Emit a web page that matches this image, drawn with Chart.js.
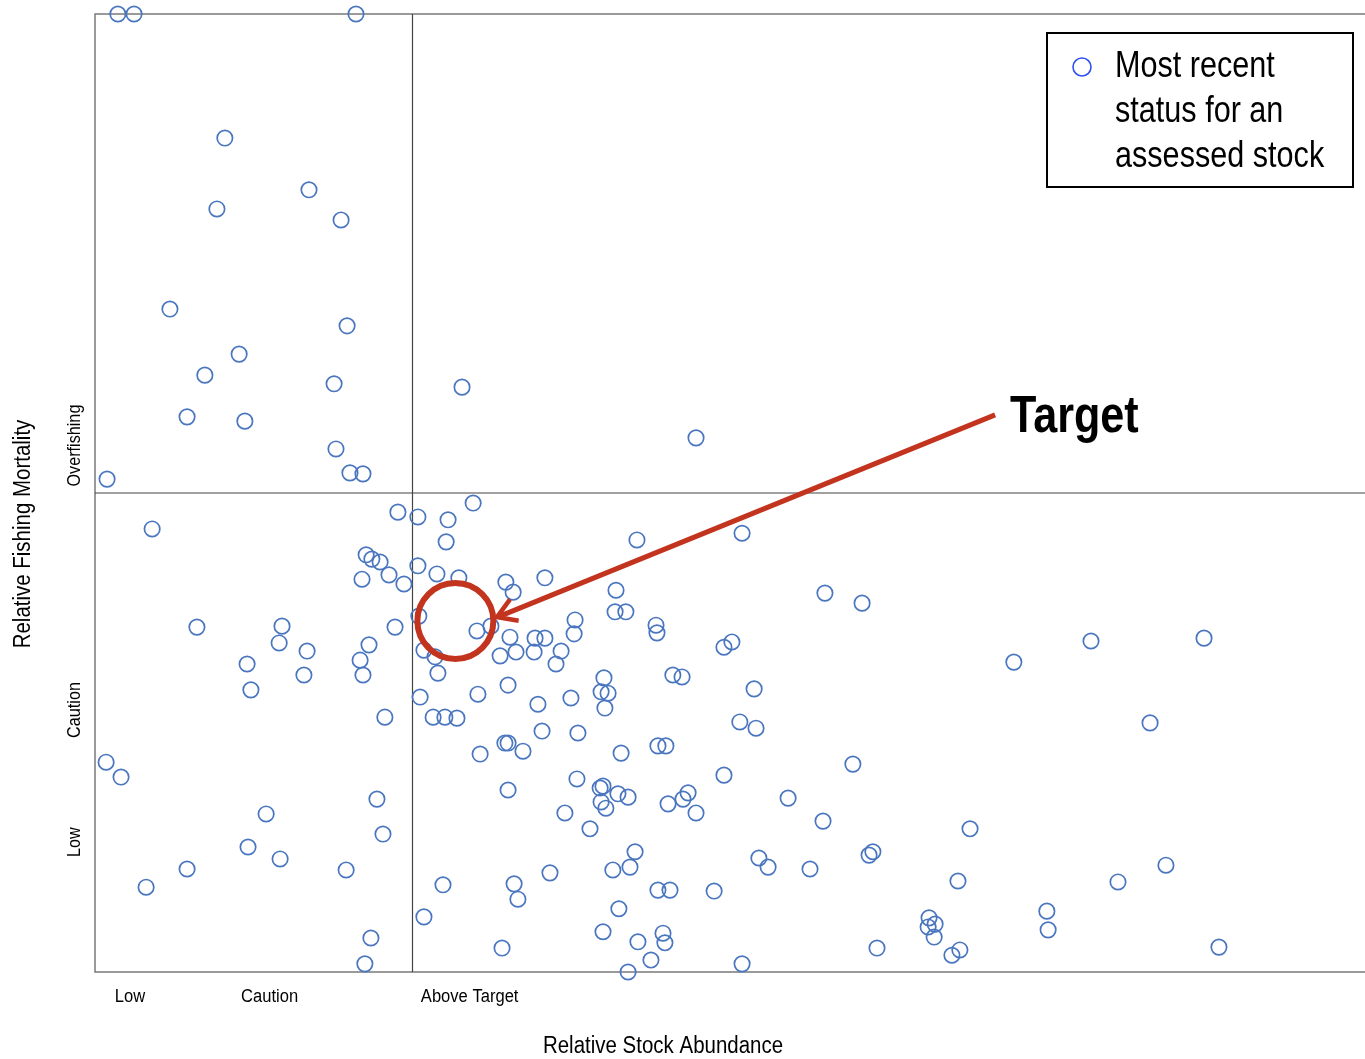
<!DOCTYPE html>
<html>
<head>
<meta charset="utf-8">
<script src="https://cdn.jsdelivr.net/npm/chart.js@4.4.1/dist/chart.umd.min.js"></script>
<style>
  html, body { margin: 0; padding: 0; background: #fff; }
  canvas { display: block; }
</style>
</head>
<body>
<canvas id="statusChart" width="1365" height="1059"></canvas>
<script>
// --- DADOS ---
// abundância relativa (B/Bmsy) e mortalidade relativa (F/Fmsy) de cada stock
const stockAbundance = [
  0.072, 0.123, 0.822, 0.409, 0.674, 0.384, 0.775, 0.236, 0.794, 0.454,
  0.346, 0.753, 0.290, 0.472, 0.759, 0.038, 0.803, 0.844, 1.156, 1.893,
  0.180, 0.954, 0.854, 0.872, 0.898, 0.926, 0.841, 0.973, 0.321, 0.589,
  0.945, 0.580, 0.863, 0.668, 0.835, 0.479, 0.658, 0.844, 0.491, 0.913,
  0.035, 0.082, 0.888, 0.539, 0.907, 0.482, 0.583, 0.791, 0.290, 0.161,
  0.869, 0.850, 1.017, 1.112, 1.191, 1.106, 1.017, 1.077, 1.146, 1.294,
  1.317, 1.417, 1.641, 1.707, 1.020, 1.203, 1.247, 1.307, 1.386, 1.417,
  1.512, 1.509, 1.638, 1.672, 1.767, 1.770, 1.036, 1.071, 1.276, 1.326,
  1.383, 1.468, 1.452, 1.080, 1.301, 1.603, 1.594, 1.616, 1.606, 1.024,
  1.206, 1.395, 1.499, 1.065, 1.102, 1.140, 1.408, 1.521, 1.213, 1.291,
  1.301, 1.348, 1.657, 1.301, 1.518, 1.591, 1.600, 1.594, 1.609, 1.647,
  1.679, 1.480, 1.559, 1.701, 1.685, 1.631, 1.433, 1.320, 1.332, 1.096,
  1.036, 1.650, 1.600, 1.710, 1.282, 1.679, 1.751, 1.773, 1.811, 2.038,
  2.299, 2.416, 1.981, 2.006, 1.820, 1.849, 2.076, 2.031, 2.082, 1.773,
  1.798, 1.981, 2.387, 1.805, 1.852, 1.868, 1.893, 2.183, 2.293, 2.091,
  2.120, 2.252, 2.438, 2.450, 1.950, 1.789, 1.795, 2.038, 2.463, 2.894,
  3.137, 3.493, 3.323, 2.756, 2.718, 3.222, 3.373, 2.998, 3.002, 2.627,
  2.646, 2.624, 2.643, 2.699, 2.724, 3.540
];
const fishingMortality = [
  2.000, 2.000, 2.000, 1.741, 1.633, 1.593, 1.570, 1.384, 1.349, 1.290,
  1.246, 1.228, 1.159, 1.150, 1.092, 1.029, 1.042, 1.040, 1.221, 1.115,
  0.925, 0.960, 0.871, 0.862, 0.856, 0.829, 0.820, 0.810, 0.720, 0.722,
  0.720, 0.687, 0.683, 0.670, 0.651, 0.643, 0.620, 0.620, 0.589, 0.532,
  0.438, 0.407, 0.361, 0.330, 0.288, 0.261, 0.236, 0.213, 0.215, 0.177,
  0.071, 0.017, 0.950, 0.944, 0.979, 0.898, 0.848, 0.831, 0.823, 0.814,
  0.793, 0.823, 0.797, 0.902, 0.743, 0.712, 0.722, 0.699, 0.697, 0.697,
  0.735, 0.706, 0.752, 0.752, 0.724, 0.708, 0.672, 0.658, 0.660, 0.668,
  0.668, 0.670, 0.643, 0.624, 0.599, 0.614, 0.585, 0.582, 0.551, 0.574,
  0.580, 0.559, 0.572, 0.532, 0.532, 0.530, 0.503, 0.499, 0.455, 0.478,
  0.478, 0.461, 0.457, 0.380, 0.403, 0.384, 0.388, 0.355, 0.342, 0.372,
  0.365, 0.332, 0.299, 0.251, 0.219, 0.213, 0.207, 0.184, 0.152, 0.182,
  0.115, 0.132, 0.084, 0.063, 0.050, 0.000, 0.025, 0.171, 0.171, 0.916,
  0.791, 0.770, 0.678, 0.689, 0.620, 0.616, 0.591, 0.522, 0.509, 0.472,
  0.472, 0.411, 0.434, 0.351, 0.361, 0.374, 0.332, 0.363, 0.315, 0.238,
  0.219, 0.215, 0.244, 0.251, 0.169, 0.081, 0.061, 0.017, 0.050, 0.647,
  0.691, 0.697, 0.520, 0.299, 0.190, 0.188, 0.223, 0.127, 0.088, 0.113,
  0.100, 0.094, 0.073, 0.035, 0.046, 0.052
];

// rótulos das categorias de cada eixo, com a posição no eixo
const abundanceLabels = ['Low', 'Caution', 'Above Target'];
const abundanceLabelPos = [0.11, 0.55, 1.18];
const mortalityLabels = ['Overfishing', 'Caution', 'Low'];
const mortalityLabelPos = [1.099, 0.547, 0.271];

const legendLines = ['Most recent', 'status for an', 'assessed stock'];
const targetText = 'Target';
const targetPoint = { x: 1.135, y: 0.733 };   // centro do círculo vermelho
const arrowStart = { x: 2.835, y: 1.163 };
const arrowTip = { x: 1.266, y: 0.741 };
const targetLabelPos = { x: 2.882, y: 1.161 };

const FONT = '"Liberation Sans", Arial, sans-serif';
const RED = '#c3341f';

// escreve texto "estreito" (não há Arial Narrow, então comprime na horizontal)
function narrowText(ctx, text, x, y, size, squeeze, opts = {}) {
  ctx.save();
  ctx.translate(x, y);
  if (opts.rotate) ctx.rotate(opts.rotate);
  ctx.scale(squeeze, 1);
  ctx.font = (opts.bold ? 'bold ' : '') + size + 'px ' + FONT;
  ctx.textAlign = opts.align || 'center';
  ctx.textBaseline = 'middle';
  ctx.fillStyle = '#000';
  ctx.fillText(text, 0, 0);
  ctx.restore();
}

// --- PLUGIN PARA MOLDURA, QUADRANTES, ANOTAÇÕES E TEXTOS ---

const overlayPlugin = {
  id: 'overlay',
  beforeDatasetsDraw(chart) {
    const { ctx, chartArea: a, scales: { x, y } } = chart;
    ctx.save();
    ctx.strokeStyle = '#7a7a7a';
    ctx.lineWidth = 1.5;
    ctx.beginPath();
    ctx.moveTo(chart.width, a.top); ctx.lineTo(a.left, a.top);
    ctx.lineTo(a.left, a.bottom); ctx.lineTo(chart.width, a.bottom);
    ctx.stroke();

    ctx.strokeStyle = '#444';
    ctx.lineWidth = 1.2;
    const vx = x.getPixelForValue(1), hy = y.getPixelForValue(1);
    ctx.beginPath();
    ctx.moveTo(vx, a.top); ctx.lineTo(vx, a.bottom);
    ctx.moveTo(a.left, hy); ctx.lineTo(chart.width, hy);
    ctx.stroke();
    ctx.restore();
  },
  afterDatasetsDraw(chart) {
    const { ctx, chartArea: a, scales: { x, y } } = chart;
    ctx.save();

    // círculo e seta do alvo
    ctx.strokeStyle = RED;
    ctx.lineWidth = 6;
    ctx.beginPath();
    ctx.arc(x.getPixelForValue(targetPoint.x), y.getPixelForValue(targetPoint.y), 38, 0, Math.PI * 2);
    ctx.stroke();

    const sx = x.getPixelForValue(arrowStart.x), sy = y.getPixelForValue(arrowStart.y);
    const tx = x.getPixelForValue(arrowTip.x), ty = y.getPixelForValue(arrowTip.y);
    ctx.lineWidth = 5;
    ctx.beginPath();
    ctx.moveTo(sx, sy); ctx.lineTo(tx + 3, ty - 1);
    ctx.stroke();
    const ang = Math.atan2(sy - ty, sx - tx);
    ctx.lineWidth = 4.5;
    ctx.beginPath();
    ctx.moveTo(tx + 22 * Math.cos(ang - 0.55), ty + 22 * Math.sin(ang - 0.55));
    ctx.lineTo(tx, ty);
    ctx.lineTo(tx + 22 * Math.cos(ang + 0.55), ty + 22 * Math.sin(ang + 0.55));
    ctx.stroke();

    narrowText(ctx, targetText, x.getPixelForValue(targetLabelPos.x), y.getPixelForValue(targetLabelPos.y) + 2,
      52, 0.83, { bold: true, align: 'left' });

    // legenda
    ctx.lineWidth = 2;
    ctx.strokeStyle = '#000';
    ctx.strokeRect(1047, 33, 306, 154);
    ctx.strokeStyle = '#3050f0';
    ctx.lineWidth = 1.6;
    ctx.beginPath();
    ctx.arc(1082, 67, 9, 0, Math.PI * 2);
    ctx.stroke();
    legendLines.forEach((line, i) => narrowText(ctx, line, 1115, 67 + i * 45, 36, 0.85, { align: 'left' }));

    // rótulos dos eixos
    abundanceLabels.forEach((lbl, i) =>
      narrowText(ctx, lbl, x.getPixelForValue(abundanceLabelPos[i]), a.bottom + 25, 18, 0.92));
    mortalityLabels.forEach((lbl, i) =>
      narrowText(ctx, lbl, 75, y.getPixelForValue(mortalityLabelPos[i]), 18, 0.9, { rotate: -Math.PI / 2 }));

    narrowText(ctx, 'Relative Stock Abundance', 663, 1047, 23, 0.89);
    narrowText(ctx, 'Relative Fishing Mortality', 24, 534, 23, 0.89, { rotate: -Math.PI / 2 });

    ctx.restore();
  }
};

// --- GRÁFICO ---

document.addEventListener('DOMContentLoaded', () => {
  const points = stockAbundance.map((v, i) => ({ x: v, y: fishingMortality[i] }));
  const ctx = document.getElementById('statusChart').getContext('2d');
  new Chart(ctx, {
    type: 'scatter',
    data: {
      datasets: [{
        label: 'Most recent status for an assessed stock',
        data: points,
        pointRadius: 7.7,
        pointHoverRadius: 7.7,
        pointBorderWidth: 1.7,
        pointBackgroundColor: 'rgba(0,0,0,0)',
        pointBorderColor: '#4a76bf',
        clip: false
      }]
    },
    options: {
      responsive: false,
      animation: false,
      // sem autoPadding, senão o raio dos pontos empurra a margem direita
      layout: { autoPadding: false, padding: { left: 95, right: 0, top: 14, bottom: 87 } },
      plugins: { legend: { display: false }, tooltip: { enabled: false } },
      scales: {
        x: { type: 'linear', min: 0, max: 4, display: false },
        y: { type: 'linear', min: 0, max: 2, display: false }
      }
    },
    plugins: [overlayPlugin]
  });
});
</script>
</body>
</html>
